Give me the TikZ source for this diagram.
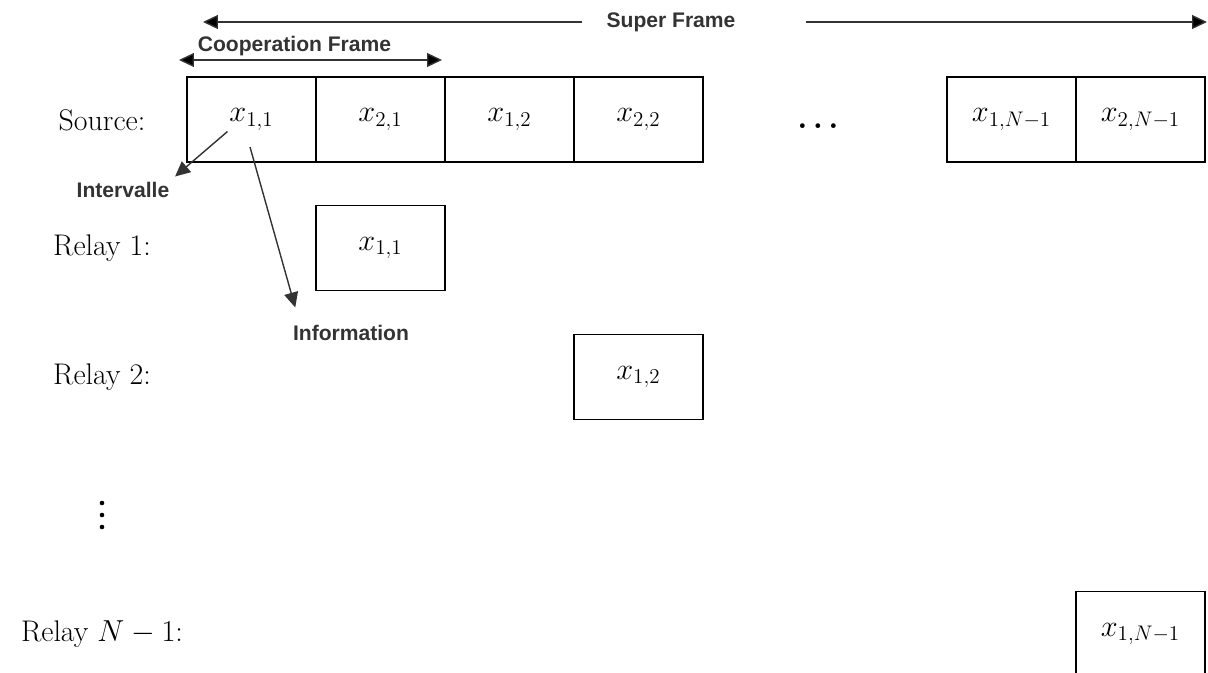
\documentclass[tikz,border=0pt]{standalone}
\usepackage{fontspec}
\setsansfont{Liberation Sans}
\usepackage{amsmath}
\usepackage{xcolor}
\usetikzlibrary{arrows.meta,positioning}
\definecolor{arrowgray}{HTML}{333333}
\newcommand{\rowfont}[0]{\fontsize{17}{20}\selectfont}
\newcommand{\slotfont}[0]{\fontsize{18.5}{22}\selectfont}
\newcommand{\notefont}[0]{\sffamily\bfseries\fontsize{12}{14}\selectfont}

\begin{document}
\begin{tikzpicture}[x=0.02cm,y=-0.02cm,>={Triangle[length=0.3cm,width=0.28cm]},
  node distance=2.58cm,semithick]
  \tikzstyle{slot}=[draw=black, line width=0.9pt, minimum width=2.58cm,
    minimum height=1.7cm, inner sep=0pt, font=\slotfont]
  \tikzstyle{row}=[font=\rowfont, inner sep=0pt]
  \tikzstyle{note}=[font=\notefont, text=arrowgray, inner sep=3pt]
  \tikzstyle{span}=[draw=arrowgray, line width=0.8pt]

  \useasboundingbox (0,0) rectangle (1208,673);

  % row labels
  \node[row] (src) at (102,120) {Source:};
  \node[row] (lR1) at (102,248) {Relay 1:};
  \node[row] (lR2) at (102,377) {Relay 2:};
  \node[row] (lRN) at (102,634) {Relay $N-1$:};
  % vertical dots between the relays
  \fill (102,503) circle (2.3) (102,515) circle (2.3) (102,527) circle (2.3);

  % source slots
  \node[slot] (S11) at (251.5,119.5) {$x_{1,1}$};
  \node[slot] (S21) [right of=S11]   {$x_{2,1}$};
  \node[slot] (S12) [right of=S21]   {$x_{1,2}$};
  \node[slot] (S22) [right of=S12]   {$x_{2,2}$};
  \node[font=\slotfont] (gap) at (818,126) {$\boldsymbol{\ldots}$};
  \node[slot] (SN1) at (1011.5,119.5) {$x_{1,N-1}$};
  \node[slot] (SN2) [right of=SN1]    {$x_{2,N-1}$};

  % relay slots
  \node[slot] (R1) at (S21 |- lR1) {$x_{1,1}$};
  \node[slot] (R2) at (S22 |- lR2) {$x_{1,2}$};
  \node[slot] (RN) at (SN2 |- lRN) {$x_{1,N-1}$};

  % frames
  \node[note] (sf) at (671,22) {Super Frame};
  \coordinate (sfL) at (203,22);
  \coordinate (sfR) at (1207,22);
  \node[note] (cf) at (294.5,46) {Cooperation Frame};
  \coordinate (cfL) at (179,60);
  \coordinate (cfR) at (442,60);

  \path[span]
  ([xshift=-0.37cm]sf.west) edge [->] (sfL)
  ([xshift=1.29cm]sf.east)  edge [->] (sfR)
  (cfL) edge [<->] (cfR)
  ;

  % annotations
  \node[note] (iv)   at (123,190) {Intervalle};
  \node[note] (info) at (351,333) {Information};
  \draw[span,->] ([shift={(-24,12)}]S11.center) -- (iv.north east);
  \draw[span,->] ([shift={(-1.5,27.5)}]S11.center) -- ([shift={(8,-12)}]info.north west);
\end{tikzpicture}
\end{document}
